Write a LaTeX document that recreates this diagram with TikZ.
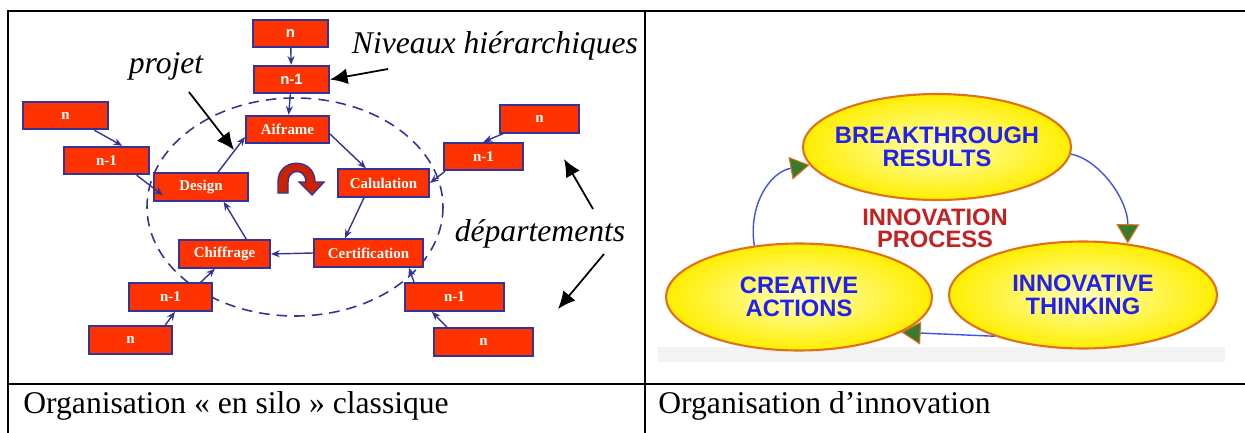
\documentclass[tikz,border=0pt]{standalone}
\usepackage{fontspec}
\setmainfont{Liberation Serif}
\newfontfamily\arialfont{Liberation Sans}
\usetikzlibrary{arrows.meta, shapes.geometric}

\definecolor{boxred}{HTML}{FF3300}
\definecolor{boxblue}{HTML}{333399}
\definecolor{turnred}{HTML}{CC2200}
\definecolor{bubbleedge}{HTML}{E0701A}
\definecolor{bubbletext}{HTML}{2020F0}
\definecolor{bubblefill}{HTML}{FFEE00}
\definecolor{bubblelight}{HTML}{FFFFB8}
\definecolor{processred}{HTML}{C42222}
\definecolor{cycleblue}{HTML}{4050F0}
\definecolor{leafgreen}{HTML}{3A7A2E}
\definecolor{bandgray}{HTML}{F3F3F3}

\tikzset{
  box/.style={draw=boxblue, line width=1.1pt, fill=boxred, text=white,
    font=\bfseries\fontsize{8.5}{10}\selectfont, minimum height=0.55cm, inner sep=0pt},
  sansbox/.style={box, font=\arialfont\bfseries\fontsize{8.5}{10}\selectfont},
  link/.style={boxblue, line width=0.8pt, -{Stealth[length=5pt, width=4pt]}},
  pointer/.style={black, line width=1pt, -{Latex[length=10pt, width=9pt]}},
  tag/.style={font=\itshape\fontsize{18}{20}\selectfont},
  bubble/.style={ellipse, draw=bubbleedge, line width=1.2pt, inner color=bubblelight,
    outer color=bubblefill, inner sep=0pt},
  bubblelabel/.style={align=center, text=bubbletext, inner sep=0pt,
    font=\arialfont\bfseries\fontsize{13.5}{13}\selectfont},
  processlabel/.style={align=center, inner sep=0pt, text=processred,
    font=\arialfont\bfseries\fontsize{13.5}{12.5}\selectfont},
  loopline/.style={cycleblue, line width=0.8pt,
    -{Triangle[length=11pt, width=13pt, fill=leafgreen, color=bubbleedge, line width=0.6pt]}},
  captiontext/.style={anchor=base west, inner sep=0pt, font=\fontsize{18}{20}\selectfont}
}

\begin{document}
\begin{tikzpicture}[x=0.02cm, y=-0.02cm]
    \useasboundingbox (0,0) rectangle (1245,433);

    % 1. Project ring
    \draw[boxblue, line width=0.9pt, dash pattern=on 6pt off 4pt] (295,207) ellipse [x radius=148, y radius=109];

    % 2. Silo boxes
    \node[sansbox, minimum width=1.5cm]  (tn)   at (290.5,33.5) {n};
    \node[sansbox, minimum width=1.5cm]  (tn1)  at (291.5,79.5) {n-1};
    \node[box, minimum width=1.66cm] (air)  at (287.5,129.5) {Aiframe};
    \node[box, minimum width=1.88cm] (des)  at (201,187) {Design};
    \node[box, minimum width=1.82cm] (cal)  at (383.5,183) {Calulation};
    \node[box, minimum width=2.18cm] (cer)  at (368.5,253) {Certification};
    \node[box, minimum width=1.82cm] (chi)  at (224.5,254) {Chiffrage};
    \node[box, minimum width=1.7cm]  (ln)   at (65.5,115.5) {n};
    \node[box, minimum width=1.7cm]  (ln1)  at (106.5,160.5) {n-1};
    \node[box, minimum width=1.58cm] (rn)   at (539.5,119) {n};
    \node[box, minimum width=1.58cm] (rn1)  at (483.5,156.5) {n-1};
    \node[box, minimum width=1.66cm] (bln1) at (170.5,297) {n-1};
    \node[box, minimum width=1.66cm] (bln)  at (130.5,340) {n};
    \node[box, minimum width=1.98cm] (brn1) at (454.5,297) {n-1};
    \node[box, minimum width=1.98cm] (brn)  at (483.5,342) {n};

    % 3. Links
    \draw[link] (tn) -- (tn1);
    \draw[link] (tn1) -- (air);
    \draw[link] (air.-6) -- (cal.140);
    \draw[link] (cal.-143) -- (cer.148);
    \draw[link] (cer.west) -- (chi.east);
    \draw[link] (chi.34) -- (des.-33);
    \draw[link] (des.41) -- (air.-170);
    \draw[link] (ln.-27) -- (ln1.43);
    \draw[link] (ln1.-26) -- ([xshift=0.2cm]des.-170);
    \draw[link] (rn.-158) -- (rn1.north);
    \draw[link] (rn1.-159) -- (cal.east);
    \draw[link] (bln.23) -- (bln1.-73);
    \draw[link] (bln1.26) -- (chi.-123);
    \draw[link] (brn.158) -- (brn1.-147);
    \draw[link] (brn1.160) -- (cer.-20);

    % 4. Turn arrow
    \filldraw[fill=turnred, draw=boxblue, line width=0.8pt]
        (278,193) -- (278,182) .. controls (278,157) and (315,157) .. (315,182)
        -- (324,182) -- (312,195) -- (299,182) -- (306,182)
        .. controls (306,168) and (288,168) .. (288,182) -- (288,193) -- cycle;

    % 5. Callouts
    \node[tag] (niv)  at (495,46) {Niveaux hiérarchiques};
    \node[tag] (proj) at (166,66) {projet};
    \node[tag] (dep)  at (540,234) {départements};
    \coordinate (nivtail)  at (388,69);
    \coordinate (projtail) at (189,92);
    \coordinate (projtip)  at (234,150);
    \coordinate (deptail1) at (593,209);
    \coordinate (deptip1)  at (564,159);
    \coordinate (deptail2) at (604,254);
    \coordinate (deptip2)  at (558,309);
    \draw[pointer] (nivtail) -- (tn1.east);
    \draw[pointer] (projtail) -- (projtip);
    \draw[pointer] (deptail1) -- (deptip1);
    \draw[pointer] (deptail2) -- (deptip2);

    % 6. Innovation cycle
    \fill[bandgray] (658,347) rectangle (1225,362);
    \node[bubble, minimum width=5.36cm, minimum height=2.12cm] (res) at (937,147) {};
    \node[bubble, minimum width=5.32cm, minimum height=2.14cm] (act) at (799,297) {};
    \node[bubble, minimum width=5.36cm, minimum height=2.14cm] (thk) at (1083,295) {};
    \node[bubblelabel] (restext) at (res) {BREAKTHROUGH\\RESULTS};
    \node[bubblelabel] (acttext) at (act) {CREATIVE\\ACTIONS};
    \node[bubblelabel] (thktext) at (thk) {INNOVATIVE\\THINKING};
    \node[processlabel] (proc) at (935,228) {INNOVATION\\PROCESS};

    \draw[loopline] (res.-3) .. controls (1100,160) and (1128,200) .. (thk.49);
    \draw[loopline] (thk.-155) -- (act.-19);
    \draw[loopline] (act.131) .. controls (748,205) and (770,172) .. (res.188);

    % 7. Table rules and captions
    \draw[line width=1.2pt] (8,433) -- (8,11) -- (1245,11);
    \draw[line width=1.2pt] (8,384) -- (1245,384);
    \draw[line width=1.2pt] (645,11) -- (645,433);
    \node[captiontext] (capl) at (23,413) {Organisation « en silo » classique};
    \node[captiontext] (capr) at (658,413) {Organisation d’innovation};

\end{tikzpicture}
\end{document}
